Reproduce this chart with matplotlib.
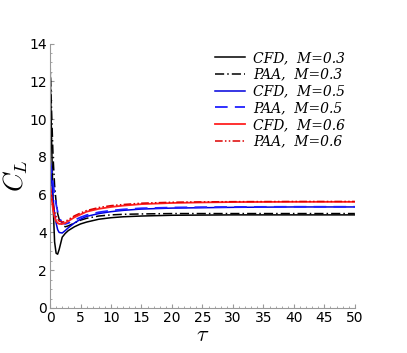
import matplotlib
matplotlib.use('Agg')
import matplotlib.pyplot as plt
from matplotlib.ticker import MultipleLocator

plt.rcParams['mathtext.fontset'] = 'cm'

tau = [0, 0.25, 0.5, 0.75, 1.0, 1.25, 1.5, 2, 2.5, 3, 4, 5, 6, 8, 10, 12, 15, 20, 25, 30, 40, 50]

cfd_03 = [13.1, 9.0, 5.5, 3.5, 2.9, 2.85, 3.1, 3.75, 3.95, 4.1, 4.3, 4.45, 4.55, 4.7, 4.78, 4.83, 4.87, 4.91, 4.92, 4.93, 4.93, 4.93]
paa_03 = [13.1, 10.5, 8.0, 6.5, 5.6, 5.0, 4.7, 4.4, 4.3, 4.35, 4.5, 4.65, 4.75, 4.87, 4.93, 4.96, 4.98, 5.0, 5.0, 5.0, 5.0, 5.0]
cfd_05 = [7.8, 6.8, 5.8, 5.0, 4.5, 4.15, 4.0, 3.97, 4.1, 4.25, 4.5, 4.7, 4.85, 5.0, 5.1, 5.17, 5.24, 5.29, 5.31, 5.33, 5.35, 5.35]
paa_05 = [7.8, 7.3, 6.6, 6.0, 5.5, 5.1, 4.8, 4.5, 4.45, 4.5, 4.65, 4.8, 4.92, 5.07, 5.16, 5.22, 5.28, 5.32, 5.34, 5.35, 5.36, 5.36]
cfd_06 = [6.5, 5.8, 5.2, 4.8, 4.6, 4.5, 4.45, 4.45, 4.5, 4.6, 4.8, 4.95, 5.1, 5.25, 5.35, 5.42, 5.5, 5.56, 5.59, 5.61, 5.62, 5.62]
paa_06 = [6.5, 6.0, 5.5, 5.1, 4.85, 4.7, 4.6, 4.55, 4.58, 4.68, 4.88, 5.03, 5.16, 5.32, 5.42, 5.48, 5.55, 5.6, 5.62, 5.63, 5.64, 5.64]

labels = ['CFD,  M=0.3', 'PAA,  M=0.3', 'CFD,  M=0.5', 'PAA,  M=0.5', 'CFD,  M=0.6', 'PAA,  M=0.6']

fig = plt.figure(figsize=(4.07, 3.53), dpi=100)
ax = fig.add_axes([0.1229, 0.1275, 0.749, 0.749])

ax.plot(tau, cfd_03, color='black', lw=1.1, label=labels[0])
ax.plot(tau, paa_03, color='black', lw=1.1, ls=(0, (6, 2, 1, 2)), label=labels[1])
ax.plot(tau, cfd_05, color='#0000dd', lw=1.1, label=labels[2])
ax.plot(tau, paa_05, color='#2020ff', lw=1.3, ls=(0, (7, 4)), label=labels[3])
ax.plot(tau, cfd_06, color='#ff2020', lw=1.3, label=labels[4])
ax.plot(tau, paa_06, color='#dd0000', lw=1.1, ls=(0, (5, 1.5, 1, 1.5, 1, 1.5)), label=labels[5])

ax.set_xlim(0, 50)
ax.set_ylim(0, 14)
ax.set_xticks(range(0, 51, 5))
ax.set_yticks(range(0, 15, 2))
ax.xaxis.set_minor_locator(MultipleLocator(1))
ax.yaxis.set_minor_locator(MultipleLocator(0.5))
ax.tick_params(which='both', direction='in', color='#999999', labelsize=10, pad=2)
ax.tick_params(which='major', length=3)
ax.tick_params(which='minor', length=1.5)
for s in ['top', 'right']:
    ax.spines[s].set_visible(False)
for s in ['left', 'bottom']:
    ax.spines[s].set_color('#999999')

ax.set_xlabel(r'$\tau$', fontsize=16, labelpad=0)
ax.set_ylabel(r'$C_L$', fontsize=19, labelpad=0)

ax.legend(loc='upper right', bbox_to_anchor=(1.01, 1.02), frameon=False,
          prop={'family': 'DejaVu Serif', 'style': 'italic', 'size': 10},
          handlelength=2.2, handletextpad=0.6, labelspacing=0.2)

fig.savefig('out.png', dpi=100)
